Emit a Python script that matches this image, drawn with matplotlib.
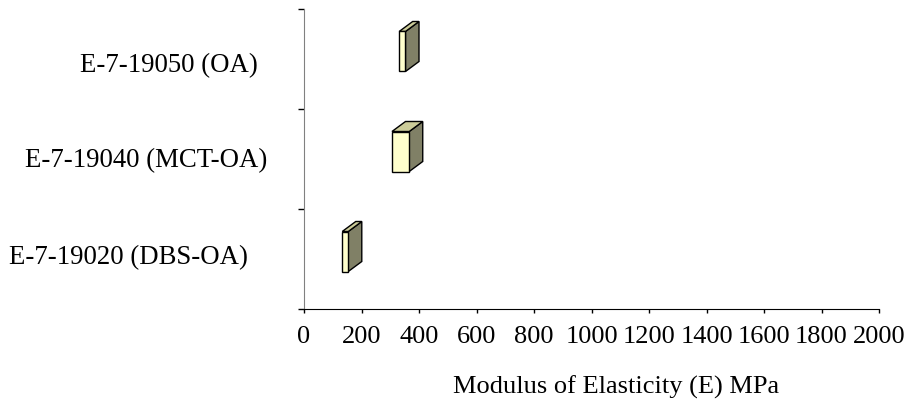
import matplotlib
matplotlib.use('Agg')
import matplotlib.pyplot as plt

# floating bars (front face), MPa
samples = ["E-7-19020 (DBS-OA)", "E-7-19040 (MCT-OA)", "E-7-19050 (OA)"]
e_low = [133, 306, 331]
e_high = [154, 366, 353]
x_ticks = [0, 200, 400, 600, 800, 1000, 1200, 1400, 1600, 1800, 2000]

W, H = 915, 405
plt.rcParams['font.family'] = ['Liberation Serif', 'DejaVu Serif']

fig = plt.figure(figsize=(W / 100, H / 100), dpi=100)
ax = fig.add_axes([304 / W, 1 - 309 / H, 575 / W, 300 / H])

depth_x, depth_y = 47, 0.10
bar_h, bar_off = 0.40, 0.075
front_c, top_c, side_c = '#FFFFCC', '#CCCC99', '#808066'

for i, (lo, hi) in enumerate(zip(e_low, e_high)):
    y0 = i + bar_off - bar_h / 2
    y1 = i + bar_off + bar_h / 2
    # side face
    ax.fill([hi, hi + depth_x, hi + depth_x, hi], [y0, y0 + depth_y, y1 + depth_y, y1],
            facecolor=side_c, edgecolor='black', linewidth=1, zorder=3)
    # top face
    ax.fill([lo, hi, hi + depth_x, lo + depth_x], [y1, y1, y1 + depth_y, y1 + depth_y],
            facecolor=top_c, edgecolor='black', linewidth=1, zorder=3)
    # front face
    ax.fill([lo, hi, hi, lo], [y0, y0, y1, y1],
            facecolor=front_c, edgecolor='black', linewidth=1, zorder=4)

ax.set_xlim(0, 2000)
ax.set_ylim(-0.5, 2.5)
ax.set_xticks(x_ticks)
ax.set_xticklabels([str(t) for t in x_ticks], fontsize=19)
ax.set_yticks([-0.5, 0.5, 1.5, 2.5])
ax.set_yticklabels([])
ax.tick_params(axis='x', direction='out', length=3, width=1, pad=9)
ax.tick_params(axis='y', direction='out', length=4.5, width=1)
ax.spines['top'].set_visible(False)
ax.spines['right'].set_visible(False)
ax.spines['left'].set_color('#808080')
ax.spines['bottom'].set_color('black')

# category labels, staggered like the 3D original
label_right = [248, 267, 258]
label_y = [258, 161, 66]
for name, xr, yc in zip(samples, label_right, label_y):
    fig.text(xr / W, 1 - yc / H, name, ha='right', va='center', fontsize=19.3)

fig.text(616 / W, 1 - 387 / H, "Modulus of Elasticity (E) MPa", ha='center', va='center', fontsize=19)

plt.savefig('out.png', dpi=100)
